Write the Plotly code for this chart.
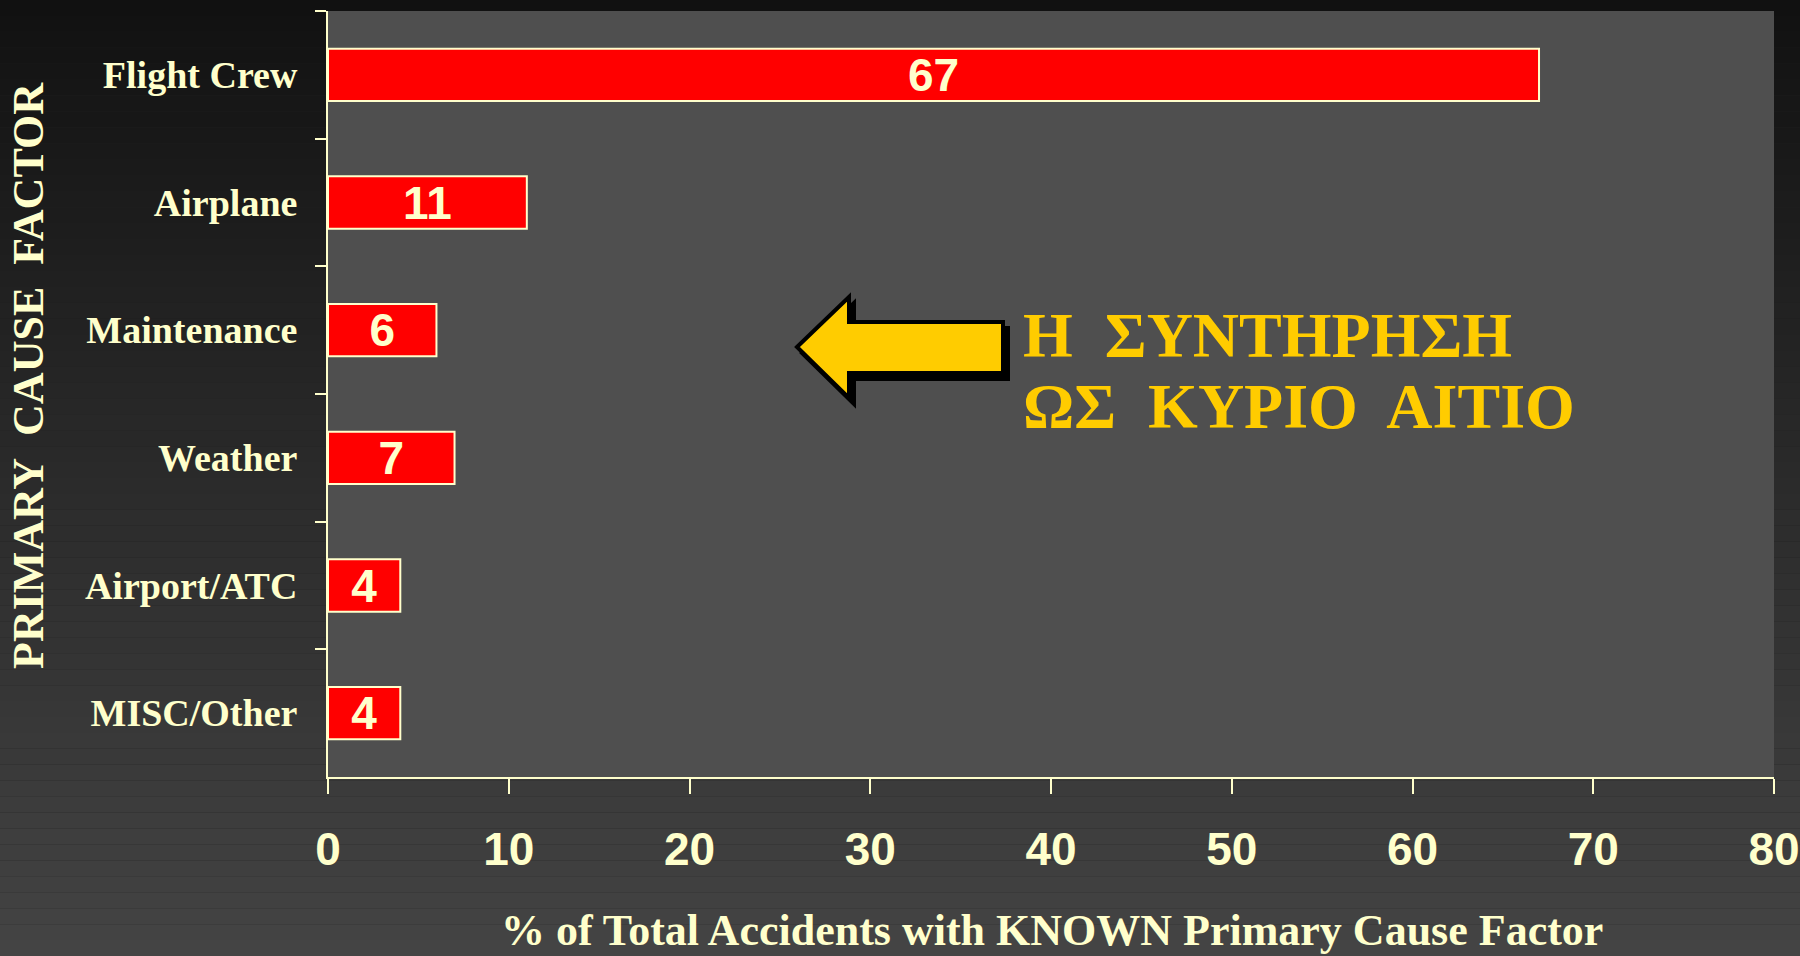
import plotly.graph_objects as go

# ---------------- data ----------------
categories = ["Flight Crew", "Airplane", "Maintenance", "Weather", "Airport/ATC", "MISC/Other"]
percent = [67, 11, 6, 7, 4, 4]
x_ticks = [0, 10, 20, 30, 40, 50, 60, 70, 80]
x_title = "% of Total Accidents with KNOWN Primary Cause Factor"
y_title = "PRIMARY\u00a0 CAUSE\u00a0 FACTOR"
callout_lines = ["Η\u00a0 ΣΥΝΤΗΡΗΣΗ", "ΩΣ\u00a0 ΚΥΡΙΟ\u00a0 ΑΙΤΙΟ"]

# ---------------- style ----------------
W, H = 1800, 956
L, R, T, B = 328, 26, 11, 179
PW, PH = W - L - R, H - T - B
CREAM = "#FFFFCC"
RED = "#FF0000"
YELLOW = "#FFCC00"
PLOT_BG = "#4f4f4f"
SANS = "Liberation Sans, Arial, sans-serif"
SERIF = "Liberation Serif, Times New Roman, serif"


def px(x):
    return (x - L) / PW


def py(y):
    return (H - B - y) / PH


fig = go.Figure()
fig.add_trace(go.Bar(
    x=percent, y=categories, orientation="h",
    width=0.41,
    marker=dict(color=RED, line=dict(color=CREAM, width=2)),
    text=[str(v) for v in percent],
    textposition="inside", insidetextanchor="middle", textangle=0,
    constraintext="none",
    textfont=dict(family=SANS, size=46, color=CREAM, weight="bold"),
    hoverinfo="skip",
))

shapes = []
# vertical background gradient
n = 60
c0, c1 = 0x11, 0x44
for i in range(n):
    v = round(c0 + (c1 - c0) * (i + 0.5) / n)
    col = "#%02x%02x%02x" % (v, v, v)
    shapes.append(dict(type="rect", xref="paper", yref="paper",
                       x0=px(0), x1=px(W), y0=py(H * (i + 1) / n), y1=py(H * i / n),
                       fillcolor=col, line=dict(width=0), layer="below"))
# plot area background
shapes.append(dict(type="rect", xref="x domain", yref="y domain", x0=0, x1=1, y0=0, y1=1,
                   fillcolor=PLOT_BG, line=dict(width=0), layer="below"))


def arrow_path(dx=0.0, dy=0.0):
    pts = [(797, 347), (849, 297), (849, 322), (1003, 322), (1003, 373), (849, 373), (849, 398)]
    s = ""
    for i, (x, y) in enumerate(pts):
        s += ("M" if i == 0 else "L") + "%.5f,%.5f" % (px(x + dx), py(y + dy))
    return s + "Z"


shapes.append(dict(type="path", xref="paper", yref="paper", path=arrow_path(5, 6),
                   fillcolor="#000000", line=dict(color="#000000", width=4)))
shapes.append(dict(type="path", xref="paper", yref="paper", path=arrow_path(),
                   fillcolor=YELLOW, line=dict(color="#000000", width=4)))

annotations = [
    dict(text=callout_lines[0], xref="paper", yref="paper", x=px(1021), y=py(336),
         xanchor="left", yanchor="middle", showarrow=False,
         font=dict(family=SERIF, size=64, color=YELLOW, weight="bold")),
    dict(text=callout_lines[1], xref="paper", yref="paper", x=px(1021), y=py(406),
         xanchor="left", yanchor="middle", showarrow=False,
         font=dict(family=SERIF, size=64, color=YELLOW, weight="bold")),
    dict(text=x_title, xref="paper", yref="paper", x=px(1052), y=py(930),
         xanchor="center", yanchor="middle", showarrow=False,
         font=dict(family=SERIF, size=44, color=CREAM, weight="bold")),
    dict(text=y_title, xref="paper", yref="paper", x=px(28), y=py(376),
         xanchor="center", yanchor="middle", showarrow=False, textangle=-90,
         font=dict(family=SERIF, size=44, color=CREAM, weight="bold")),
]

fig.update_layout(
    width=W, height=H,
    margin=dict(l=L, r=R, t=T, b=B, pad=0, autoexpand=False),
    paper_bgcolor="#222222", plot_bgcolor=PLOT_BG,
    showlegend=False,
    shapes=shapes, annotations=annotations,
    xaxis=dict(range=[0, 80], tickmode="array", tickvals=x_ticks,
               ticktext=[str(t) for t in x_ticks],
               automargin=False,
               showgrid=False, zeroline=False,
               showline=True, linecolor=CREAM, linewidth=2,
               ticks="outside", ticklen=15, tickwidth=2, tickcolor=CREAM,
               ticklabelstandoff=16,
               tickfont=dict(family=SANS, size=46, color=CREAM, weight="bold")),
    yaxis=dict(type="category", categoryorder="array", categoryarray=categories,
               autorange="reversed", automargin=False,
               showgrid=False, zeroline=False,
               showline=True, linecolor=CREAM, linewidth=2,
               ticks="outside", tickson="boundaries", ticklen=11, tickwidth=2, tickcolor=CREAM,
               ticklabelstandoff=21,
               tickfont=dict(family=SERIF, size=38, color=CREAM, weight="bold")),
    bargap=0.59,
)

fig.write_html("out.html", config={"displayModeBar": False},
               post_script="document.body.style.margin='0';document.body.style.background='#111111';")
